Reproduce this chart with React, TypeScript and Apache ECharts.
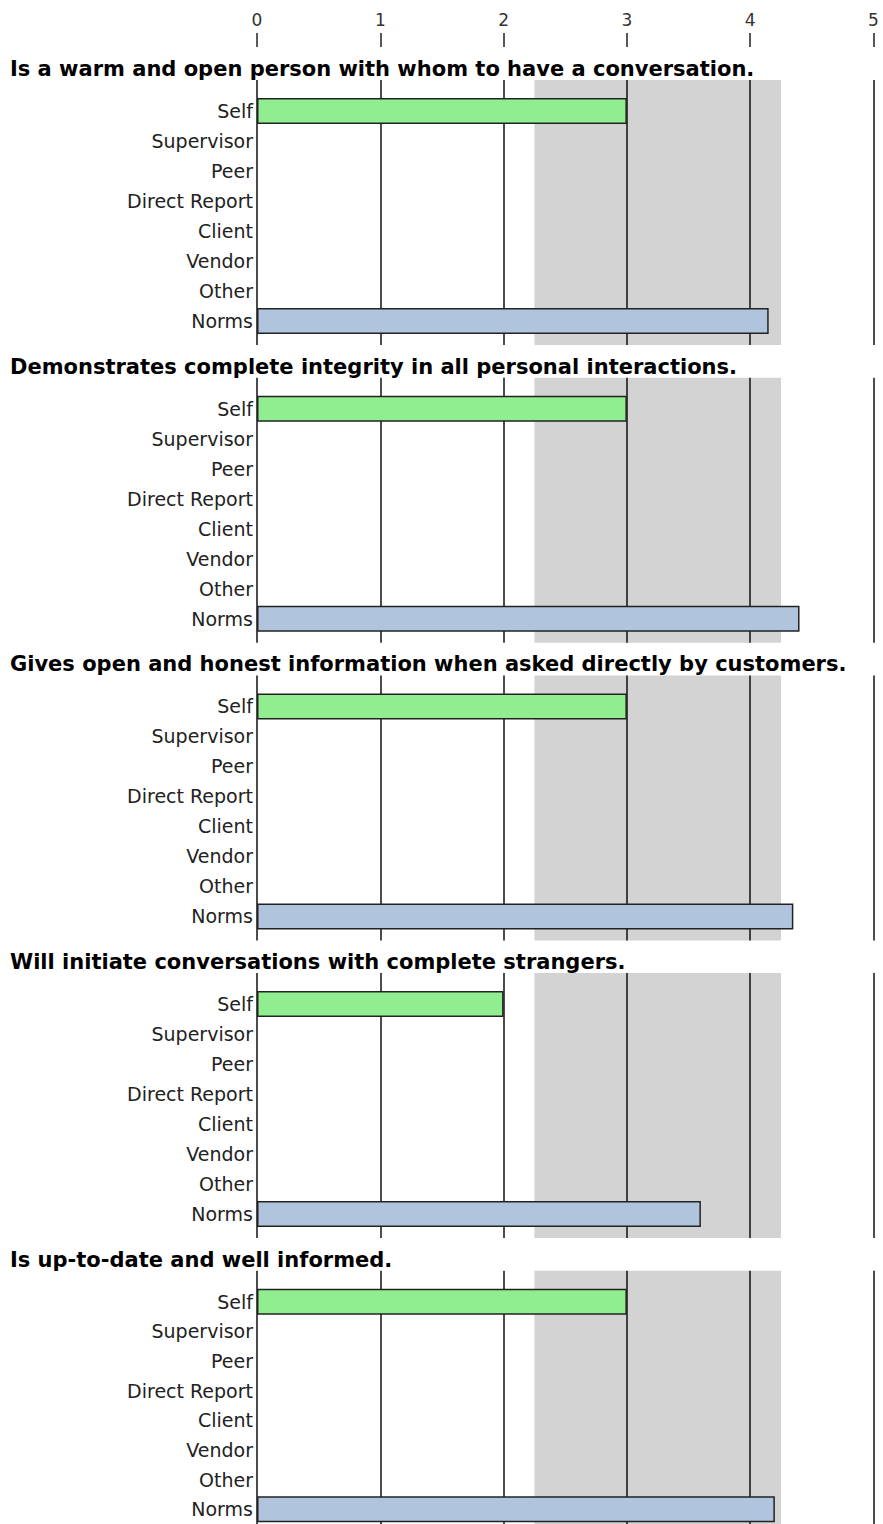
import React, { useEffect, useRef } from "react";
import * as echarts from "echarts";

const ROWS = ["Self", "Supervisor", "Peer", "Direct Report", "Client", "Vendor", "Other", "Norms"];
const TITLES = [
  "Is a warm and open person with whom to have a conversation.",
  "Demonstrates complete integrity in all personal interactions.",
  "Gives open and honest information when asked directly by customers.",
  "Will initiate conversations with complete strangers.",
  "Is up-to-date and well informed.",
];
const SELF = [3, 3, 3, 2, 3];
const NORMS = [4.15, 4.4, 4.35, 3.6, 4.2];
const AXIS_MIN = 0;
const AXIS_MAX = 5;
const BAND = [2.25, 4.25];

const W = 883;
const H = 1524;
const PANEL_STEP = 297.7;
const LEFT = 257;
const RIGHT = 9.5;

export default function App() {
  const ref = useRef<HTMLDivElement>(null);
  useEffect(() => {
    document.body.style.margin = "0";
    if (!ref.current) return;
    const chart = echarts.init(ref.current, null, { renderer: "svg", width: W, height: H });
    const grid: any[] = [];
    const xAxis: any[] = [];
    const yAxis: any[] = [];
    const series: any[] = [];
    const graphic: any[] = [];

    // top tick axis: split lines act as the short tick marks
    grid.push({ left: LEFT, right: RIGHT, top: 33, height: 14 });
    xAxis.push({
      type: "value",
      gridIndex: 0,
      min: AXIS_MIN,
      max: AXIS_MAX,
      interval: 1,
      position: "top",
      axisLine: { show: false, onZero: false },
      axisTick: { show: false },
      axisLabel: { margin: 5, fontSize: 17, color: "#333", fontFamily: "DejaVu Sans" },
      splitLine: { show: true, lineStyle: { color: "#222", width: 1.5 } },
    });
    yAxis.push({ type: "value", gridIndex: 0, min: 0, max: 1, show: false });

    TITLES.forEach((title, i) => {
      const o = PANEL_STEP * i;
      const bg = 1 + 2 * i;
      const fg = 2 + 2 * i;
      // background grid (band + gridlines)
      grid.push({ left: LEFT, right: RIGHT, top: 80 + o, height: 265 });
      xAxis.push({
        type: "value",
        gridIndex: bg,
        min: AXIS_MIN,
        max: AXIS_MAX,
        interval: 1,
        z: 5,
        axisLine: { show: false, onZero: false },
        axisTick: { show: false },
        axisLabel: { show: false },
        splitLine: { show: true, lineStyle: { color: "#111", width: 1.5 } },
      });
      yAxis.push({ type: "value", gridIndex: bg, min: 0, max: 1, show: false });
      series.push({
        type: "line",
        xAxisIndex: bg,
        yAxisIndex: bg,
        data: [],
        z: 1,
        silent: true,
        markArea: {
          silent: true,
          itemStyle: { color: "#d3d3d3" },
          data: [[{ xAxis: BAND[0] }, { xAxis: BAND[1] }]],
        },
      });
      // bars grid
      grid.push({ left: LEFT, right: RIGHT, top: 96 + o, height: 240 });
      xAxis.push({ type: "value", gridIndex: fg, min: AXIS_MIN, max: AXIS_MAX, show: false });
      yAxis.push({
        type: "category",
        gridIndex: fg,
        data: ROWS,
        inverse: true,
        axisLine: { show: false },
        axisTick: { show: false },
        splitLine: { show: false },
        axisLabel: { margin: 4, fontSize: 19, color: "#222", fontFamily: "DejaVu Sans" },
      });
      series.push({
        type: "bar",
        xAxisIndex: fg,
        yAxisIndex: fg,
        barWidth: 26,
        z: 10,
        itemStyle: { borderColor: "#222", borderWidth: 1.5 },
        data: ROWS.map((r, k) =>
          k === 0
            ? { value: SELF[i], itemStyle: { color: "#90ee90" } }
            : k === ROWS.length - 1
            ? { value: NORMS[i], itemStyle: { color: "#b0c4de" } }
            : null
        ),
      });
      graphic.push({
        type: "text",
        x: 10,
        y: 69 + o,
        z: 20,
        style: {
          text: title,
          font: 'bold 21px "DejaVu Sans"',
          fill: "#000",
          verticalAlign: "middle",
        },
      });
    });
    chart.setOption({
      animation: false,
      backgroundColor: "#fff",
      grid,
      xAxis,
      yAxis,
      series,
      graphic,
    });
    return () => chart.dispose();
  }, []);
  return <div ref={ref} style={{ width: W, height: H }} />;
}
